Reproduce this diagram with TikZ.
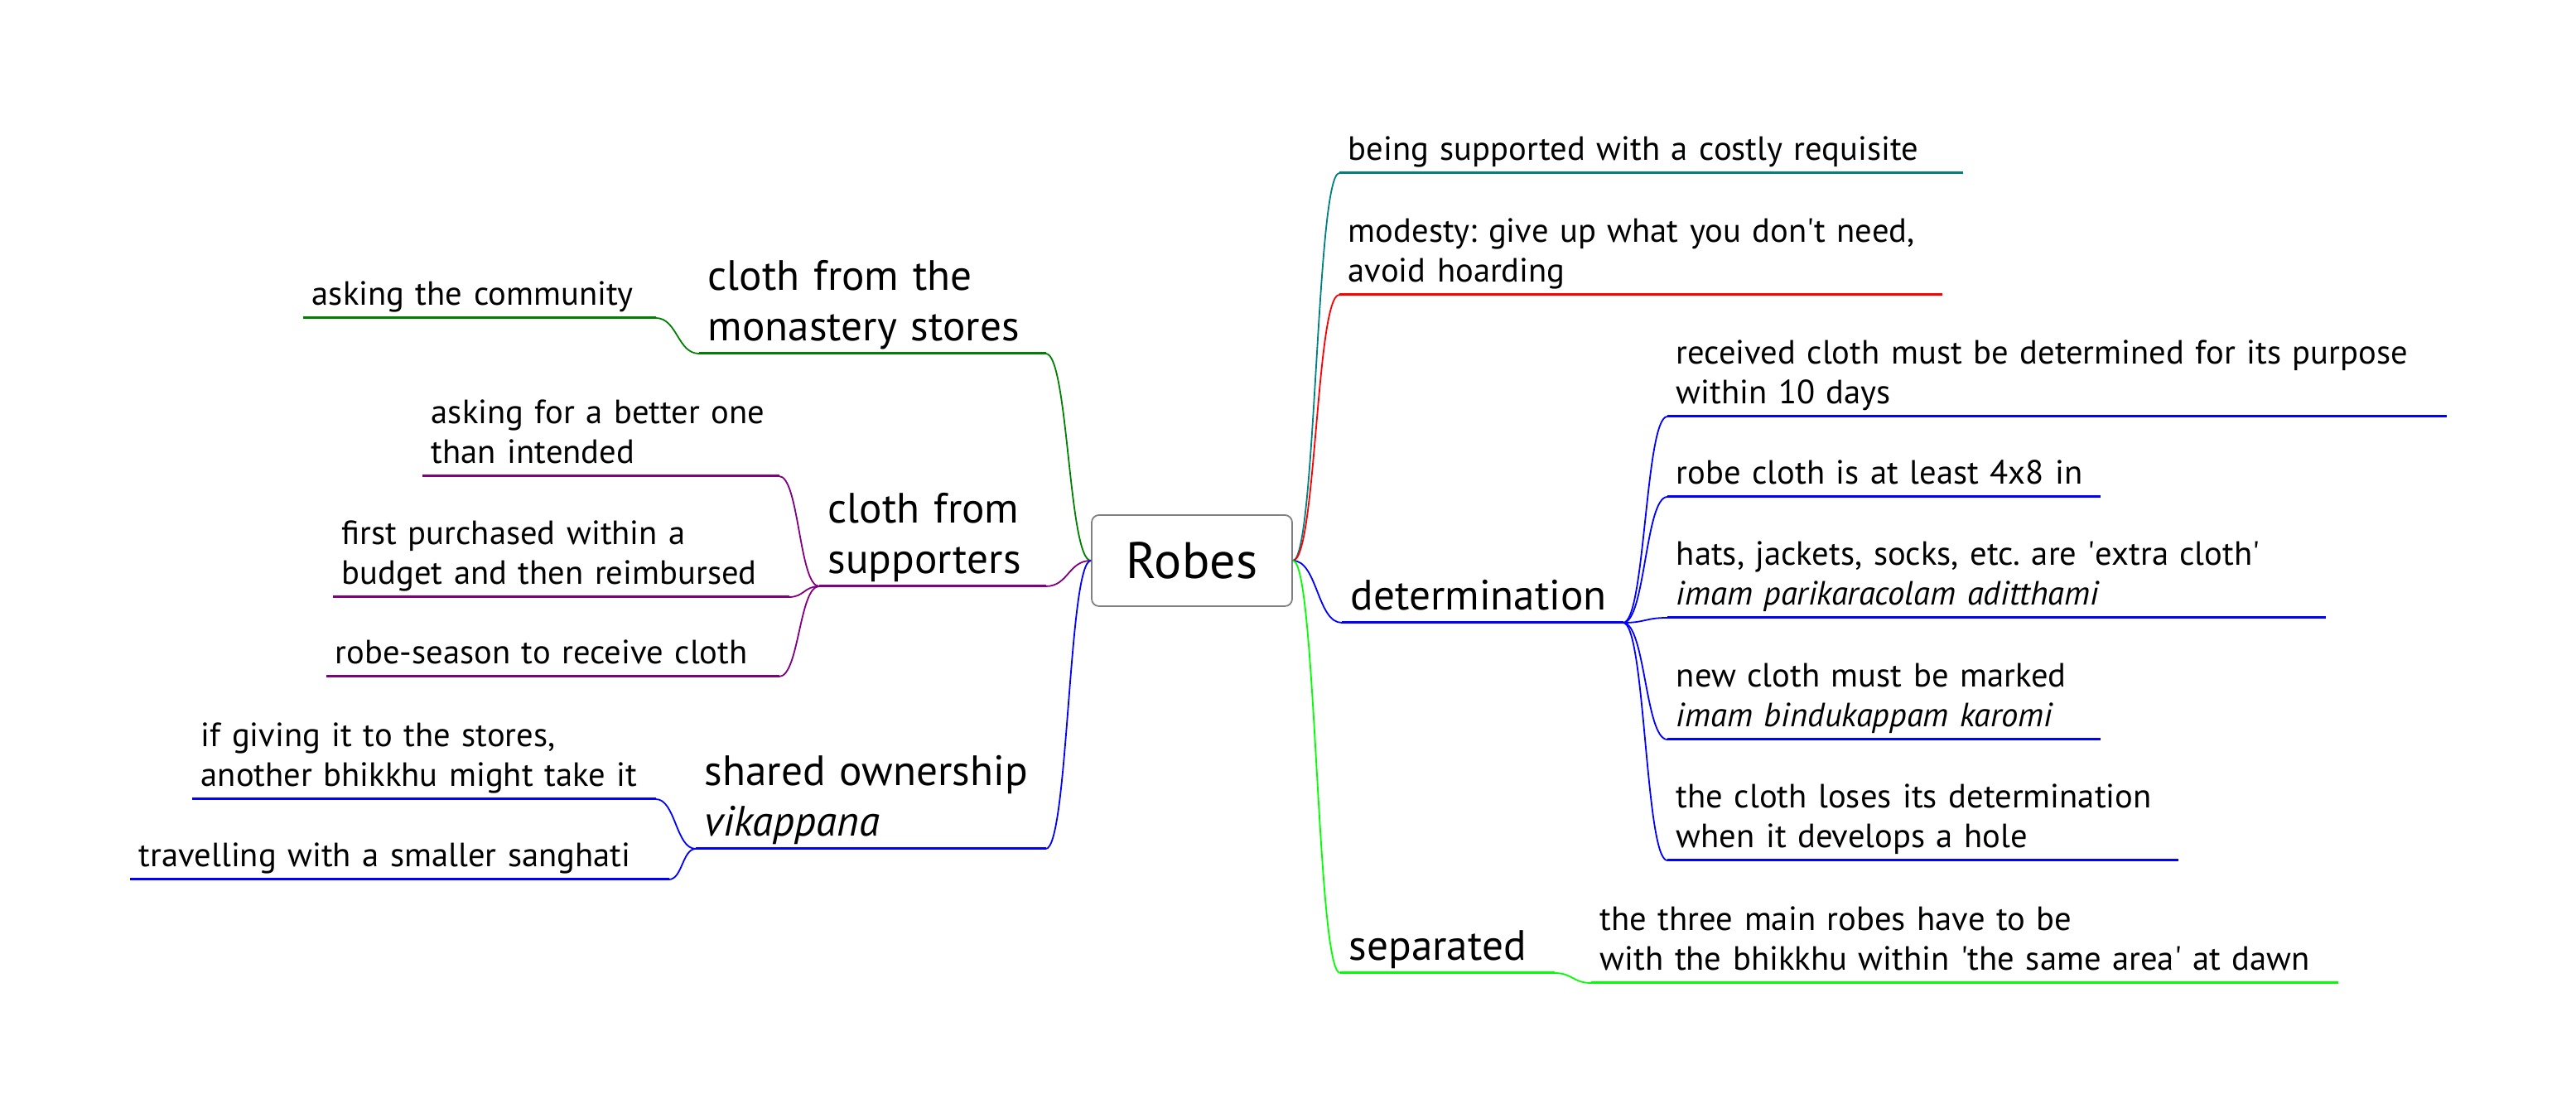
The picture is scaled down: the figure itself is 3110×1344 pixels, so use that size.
\documentclass[tikz,border=0pt]{standalone}
\usepackage{fontspec}
\setmainfont{PT Sans}
\usepackage{tikz}
\usetikzlibrary{calc}
\definecolor{mmteal}{RGB}{0,128,128}
\definecolor{mmgreen}{RGB}{0,128,0}
\definecolor{mmlime}{RGB}{0,255,0}
\definecolor{mmpurple}{RGB}{128,0,128}
\frenchspacing

\begin{document}
\begin{tikzpicture}[
  x=0.25pt, y=-0.25pt,
  % Central topic
  rootbox/.style={
    rectangle, draw=gray, line width=0.45pt, rounded corners=2.2pt,
    minimum width=60.5pt, minimum height=27.5pt, inner sep=0pt,
    font=\fontsize{15.5}{18}\selectfont
  },
  % First level topics
  topic/.style={
    anchor=south west, align=left, inner xsep=2.5pt, inner ysep=0pt,
    font=\fontsize{12.8}{15.2}\selectfont,
    execute at end node={\rule[-3.75pt]{0pt}{0pt}}
  },
  % Leaves
  leaf/.style={
    anchor=south west, align=left, inner xsep=2.5pt, inner ysep=0pt,
    font=\fontsize{10.15}{12}\selectfont,
    execute at end node={\rule[-3.75pt]{0pt}{0pt}}
  },
  % Lines
  uline/.style={line width=0.75pt},
  fork/.style={line width=0.45pt,
    to path={let \p1=(\tikztostart), \p2=(\tikztotarget) in
      .. controls ({(\x1+\x2)/2},\y1) and ({(\x1+\x2)/2},\y2) .. (\tikztotarget)}}
]
\fill[white] (0,0) rectangle (3110,1344);

% === CENTRAL TOPIC ===
\node[rootbox] (robes) at (1439,677) {Robes};

% === RIGHT SIDE ===
\node[leaf, text width=182.75pt] (costly) at (1617,209) {being supported with a costly requisite};
\node[leaf, text width=176.5pt] (modesty) at (1617,356) {modesty: give up what you don\textquotesingle t need,\\avoid hoarding};
\node[topic, text width=79.5pt] (determ) at (1620,752) {determination};
\node[leaf, text width=229.75pt] (tendays) at (2013,503) {received cloth must be determined for its purpose\\within 10 days};
\node[leaf, text width=125.25pt] (size) at (2013,600) {robe cloth is at least 4x8 in};
\node[leaf, text width=193.25pt] (extra) at (2013,746) {hats, jackets, socks, etc. are \textquotesingle extra cloth\textquotesingle\\\textit{imam parikaracolam aditthami}};
\node[leaf, text width=125.25pt] (marked) at (2013,893) {new cloth must be marked\\\textit{imam bindukappam karomi}};
\node[leaf, text width=148.75pt] (hole) at (2013,1039) {the cloth loses its determination\\when it develops a hole};
\node[topic, text width=59.25pt] (separ) at (1618,1175) {separated};
\node[leaf, text width=220pt] (dawn) at (1921,1187) {the three main robes have to be\\with the bhikkhu within \textquotesingle the same area\textquotesingle{} at dawn};

% === LEFT SIDE ===
\node[topic, text width=99.25pt] (stores) at (844,427) {cloth from the\\monastery stores};
\node[leaf, text width=101pt] (community) at (366,384) {asking the community};
\node[topic, text width=63pt] (supporters) at (989,708) {cloth from\\supporters};
\node[leaf, text width=102.25pt] (better) at (510,575) {asking for a better one\\than intended};
\node[leaf, text width=132.25pt] (budget) at (402,721) {first purchased within a\\budget and then reimbursed};
\node[leaf, text width=131.25pt] (season) at (394,817) {robe-season to receive cloth};
\node[topic, text width=100.25pt] (shared) at (840,1025) {shared ownership\\\textit{vikappana}};
\node[leaf, text width=134.5pt] (giving) at (232,965) {if giving it to the stores,\\another bhikkhu might take it};
\node[leaf, text width=157.25pt] (sanghati) at (157,1062) {travelling with a smaller sanghati};

% === UNDERLINES ===
\foreach \k/\c in {costly/mmteal, modesty/red, determ/blue, tendays/blue, size/blue,
    extra/blue, marked/blue, hole/blue, separ/mmlime, dawn/mmlime,
    stores/mmgreen, community/mmgreen, supporters/mmpurple, better/mmpurple,
    budget/mmpurple, season/mmpurple, shared/blue, giving/blue, sanghati/blue}
  \draw[uline, \c] (\k.south west) -- (\k.south east);

% === EDGES, RIGHT ===
\draw[fork, mmteal] (robes.east) to (costly.south west);
\draw[fork, red] (robes.east) to (modesty.south west);
\draw[fork, blue] (robes.east) to (determ.south west);
\draw[fork, mmlime] (robes.east) to (separ.south west);
\foreach \k in {tendays, size, extra, marked, hole}
  \draw[fork, blue] (determ.south east) to (\k.south west);
\draw[fork, mmlime] (separ.south east) to (dawn.south west);

% === EDGES, LEFT ===
\draw[fork, mmgreen] (robes.west) to (stores.south east);
\draw[fork, mmpurple] (robes.west) to (supporters.south east);
\draw[fork, blue] (robes.west) to (shared.south east);
\draw[fork, mmgreen] (stores.south west) to (community.south east);
\foreach \k in {better, budget, season}
  \draw[fork, mmpurple] (supporters.south west) to (\k.south east);
\foreach \k in {giving, sanghati}
  \draw[fork, blue] (shared.south west) to (\k.south east);

\end{tikzpicture}
\end{document}
